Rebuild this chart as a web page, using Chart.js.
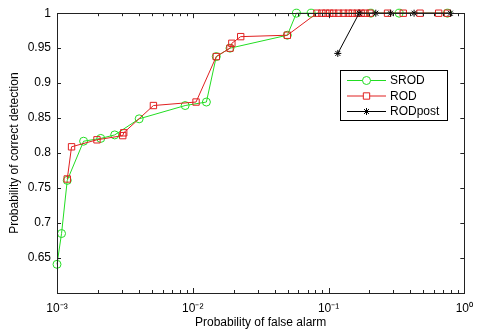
<!DOCTYPE html>
<html><head><meta charset="utf-8">
<script src="https://cdn.jsdelivr.net/npm/chart.js@4/dist/chart.umd.min.js"></script>
<style>html,body{margin:0;padding:0;background:#fff}</style>
</head><body>
<canvas id="c" width="481" height="330"></canvas>
<script>
// ---- data ----
const srodX = [0.00100, 0.00108, 0.00119, 0.00157, 0.00210, 0.00266, 0.00403, 0.00879, 0.0126, 0.0149, 0.0188, 0.0497, 0.058, 0.0744, 0.205, 0.331, 0.751];
const srodY = [0.641, 0.685, 0.761, 0.817, 0.821, 0.826, 0.849, 0.868, 0.873, 0.938, 0.950, 0.9685, 1, 1, 1, 1, 1];

const rodX = [0.00119, 0.00128, 0.00197, 0.00305, 0.00310, 0.00513, 0.01057, 0.0149, 0.0188, 0.0194, 0.02254, 0.0497,
              0.0821, 0.0893, 0.0954, 0.102, 0.109, 0.1185, 0.1288, 0.140, 0.1496, 0.1626, 0.1738, 0.1857, 0.2017, 0.272, 0.355, 0.4716, 0.647, 0.751];
const rodY = [0.763, 0.809, 0.819, 0.825, 0.829, 0.868, 0.873, 0.938, 0.950, 0.957, 0.9665, 0.9685,
              1, 1, 1, 1, 1, 1, 1, 1, 1, 1, 1, 1, 1, 1, 1, 1, 1, 1];

const rodPostX = [0.117, 0.168, 0.2228, 0.2864, 0.4266, 0.789];
const rodPostY = [0.9425, 1, 1, 1, 1, 1];

const xDecadeLabels = {'-3': '10\u207B\u00B3', '-2': '10\u207B\u00B2', '-1': '10\u207B\u00B9', '0': '10\u2070'};
const yTickValues = [0.65, 0.7, 0.75, 0.8, 0.85, 0.9, 0.95, 1];
const seriesNames = ['SROD', 'ROD', 'RODpost'];
const xTitle = 'Probability of false alarm';
const yTitle = 'Probability of correct detection';

const pts = (xs, ys) => xs.map((x, i) => ({x: x, y: ys[i]}));
const FONT = "'Liberation Sans', Arial, sans-serif";

const boxPlugin = {
  id: 'matlabBox',
  afterDatasetsDraw(chart) {
    const {ctx, chartArea: a, scales: {x, y}} = chart;
    ctx.save();
    ctx.strokeStyle = '#222';
    ctx.lineWidth = 1;
    ctx.beginPath();
    for (let e = -3; e <= 0; e++) {
      for (let m = 1; m <= 9; m++) {
        const v = m * Math.pow(10, e);
        if (v > 1.0000001) break;
        const px = Math.round(x.getPixelForValue(v)) + 0.5;
        const len = (m === 1) ? 5 : 3;
        ctx.moveTo(px, a.bottom); ctx.lineTo(px, a.bottom - len);
        ctx.moveTo(px, a.top); ctx.lineTo(px, a.top + len);
      }
    }
    yTickValues.forEach(v => {
      const py = Math.round(y.getPixelForValue(v)) + 0.5;
      ctx.moveTo(a.left, py); ctx.lineTo(a.left + 4, py);
      ctx.moveTo(a.right, py); ctx.lineTo(a.right - 4, py);
    });
    ctx.stroke();
    ctx.strokeRect(Math.round(a.left) + 0.5, Math.round(a.top) + 0.5, Math.round(a.right - a.left), Math.round(a.bottom - a.top));
    ctx.restore();
  },
  afterDraw(chart) {
    const {ctx} = chart;
    const bx = 340, by = 70, bw = 107, bh = 50;
    ctx.save();
    ctx.fillStyle = '#fff';
    ctx.fillRect(bx, by, bw, bh);
    ctx.strokeStyle = '#000';
    ctx.lineWidth = 1;
    ctx.strokeRect(bx + 0.5, by + 0.5, bw, bh);
    ctx.font = '12px ' + FONT;
    ctx.textBaseline = 'middle';
    ctx.textAlign = 'left';
    seriesNames.forEach((name, i) => {
      const ds = chart.data.datasets.find(d => d.label === name);
      const yy = by + 10.5 + i * 15.5;
      ctx.strokeStyle = ds.borderColor;
      ctx.lineWidth = 1;
      ctx.beginPath(); ctx.moveTo(bx + 7, yy); ctx.lineTo(bx + 46, yy); ctx.stroke();
      ctx.fillStyle = '#fff';
      ctx.strokeStyle = ds.pointBorderColor;
      Chart.helpers.drawPoint(ctx, {pointStyle: ds.pointStyle, radius: ds.pointRadius, borderWidth: 1, rotation: 0}, bx + 26.5, yy);
      ctx.fillStyle = '#000';
      ctx.fillText(name, bx + 50, yy + 0.5);
    });
    ctx.restore();
  }
};

new Chart(document.getElementById('c'), {
  type: 'line',
  data: {
    datasets: [
      {label: seriesNames[0], data: pts(srodX, srodY), borderColor: '#22dd22', backgroundColor: 'rgba(0,0,0,0)',
       pointBorderColor: '#22dd22', pointStyle: 'circle', pointRadius: 4, borderWidth: 1, order: 3, clip: false},
      {label: seriesNames[1], data: pts(rodX, rodY), borderColor: '#e02020', backgroundColor: 'rgba(0,0,0,0)',
       pointBorderColor: '#e02020', pointStyle: 'rect', pointRadius: 4.5, borderWidth: 1, order: 2, clip: false},
      {label: seriesNames[2], data: pts(rodPostX, rodPostY), borderColor: '#000', backgroundColor: 'rgba(0,0,0,0)',
       pointBorderColor: '#000', pointStyle: 'star', pointRadius: 3.5, borderWidth: 1, order: 1, clip: false}
    ]
  },
  options: {
    responsive: false,
    animation: false,
    events: [],
    layout: {padding: {left: 0, right: 9, top: 10, bottom: 0}},
    plugins: {legend: {display: false}, tooltip: {enabled: false}},
    elements: {line: {tension: 0}, point: {pointBorderWidth: 1, backgroundColor: 'rgba(0,0,0,0)'}},
    scales: {
      x: {
        type: 'logarithmic', min: 0.001, max: 1,
        grid: {display: false, drawTicks: false, tickLength: 0},
        border: {display: false},
        ticks: {
          autoSkip: false, maxRotation: 0, padding: 8, color: '#000',
          font: {family: FONT, size: 12},
          callback: (v) => {
            const e = Math.log10(v), r = Math.round(e);
            return Math.abs(e - r) < 1e-6 && xDecadeLabels[String(r)] ? xDecadeLabels[String(r)] : '';
          }
        },
        title: {display: true, text: xTitle, color: '#000', font: {family: FONT, size: 12}, padding: {top: 5, bottom: 0}},
        afterFit: (s) => { s.height = 37; }
      },
      y: {
        type: 'linear', min: 0.6, max: 1,
        grid: {display: false, drawTicks: false, tickLength: 0},
        border: {display: false},
        afterBuildTicks: (s) => { s.ticks = yTickValues.map(v => ({value: v})); },
        ticks: {
          padding: 6, color: '#000', font: {family: FONT, size: 12},
          callback: (v) => String(Math.round(v * 100) / 100)
        },
        title: {display: true, text: yTitle, color: '#000', font: {family: FONT, size: 12}, padding: {top: 7, bottom: 0}},
        afterFit: (s) => { s.width = 57; }
      }
    }
  },
  plugins: [boxPlugin]
});
</script>
</body></html>
